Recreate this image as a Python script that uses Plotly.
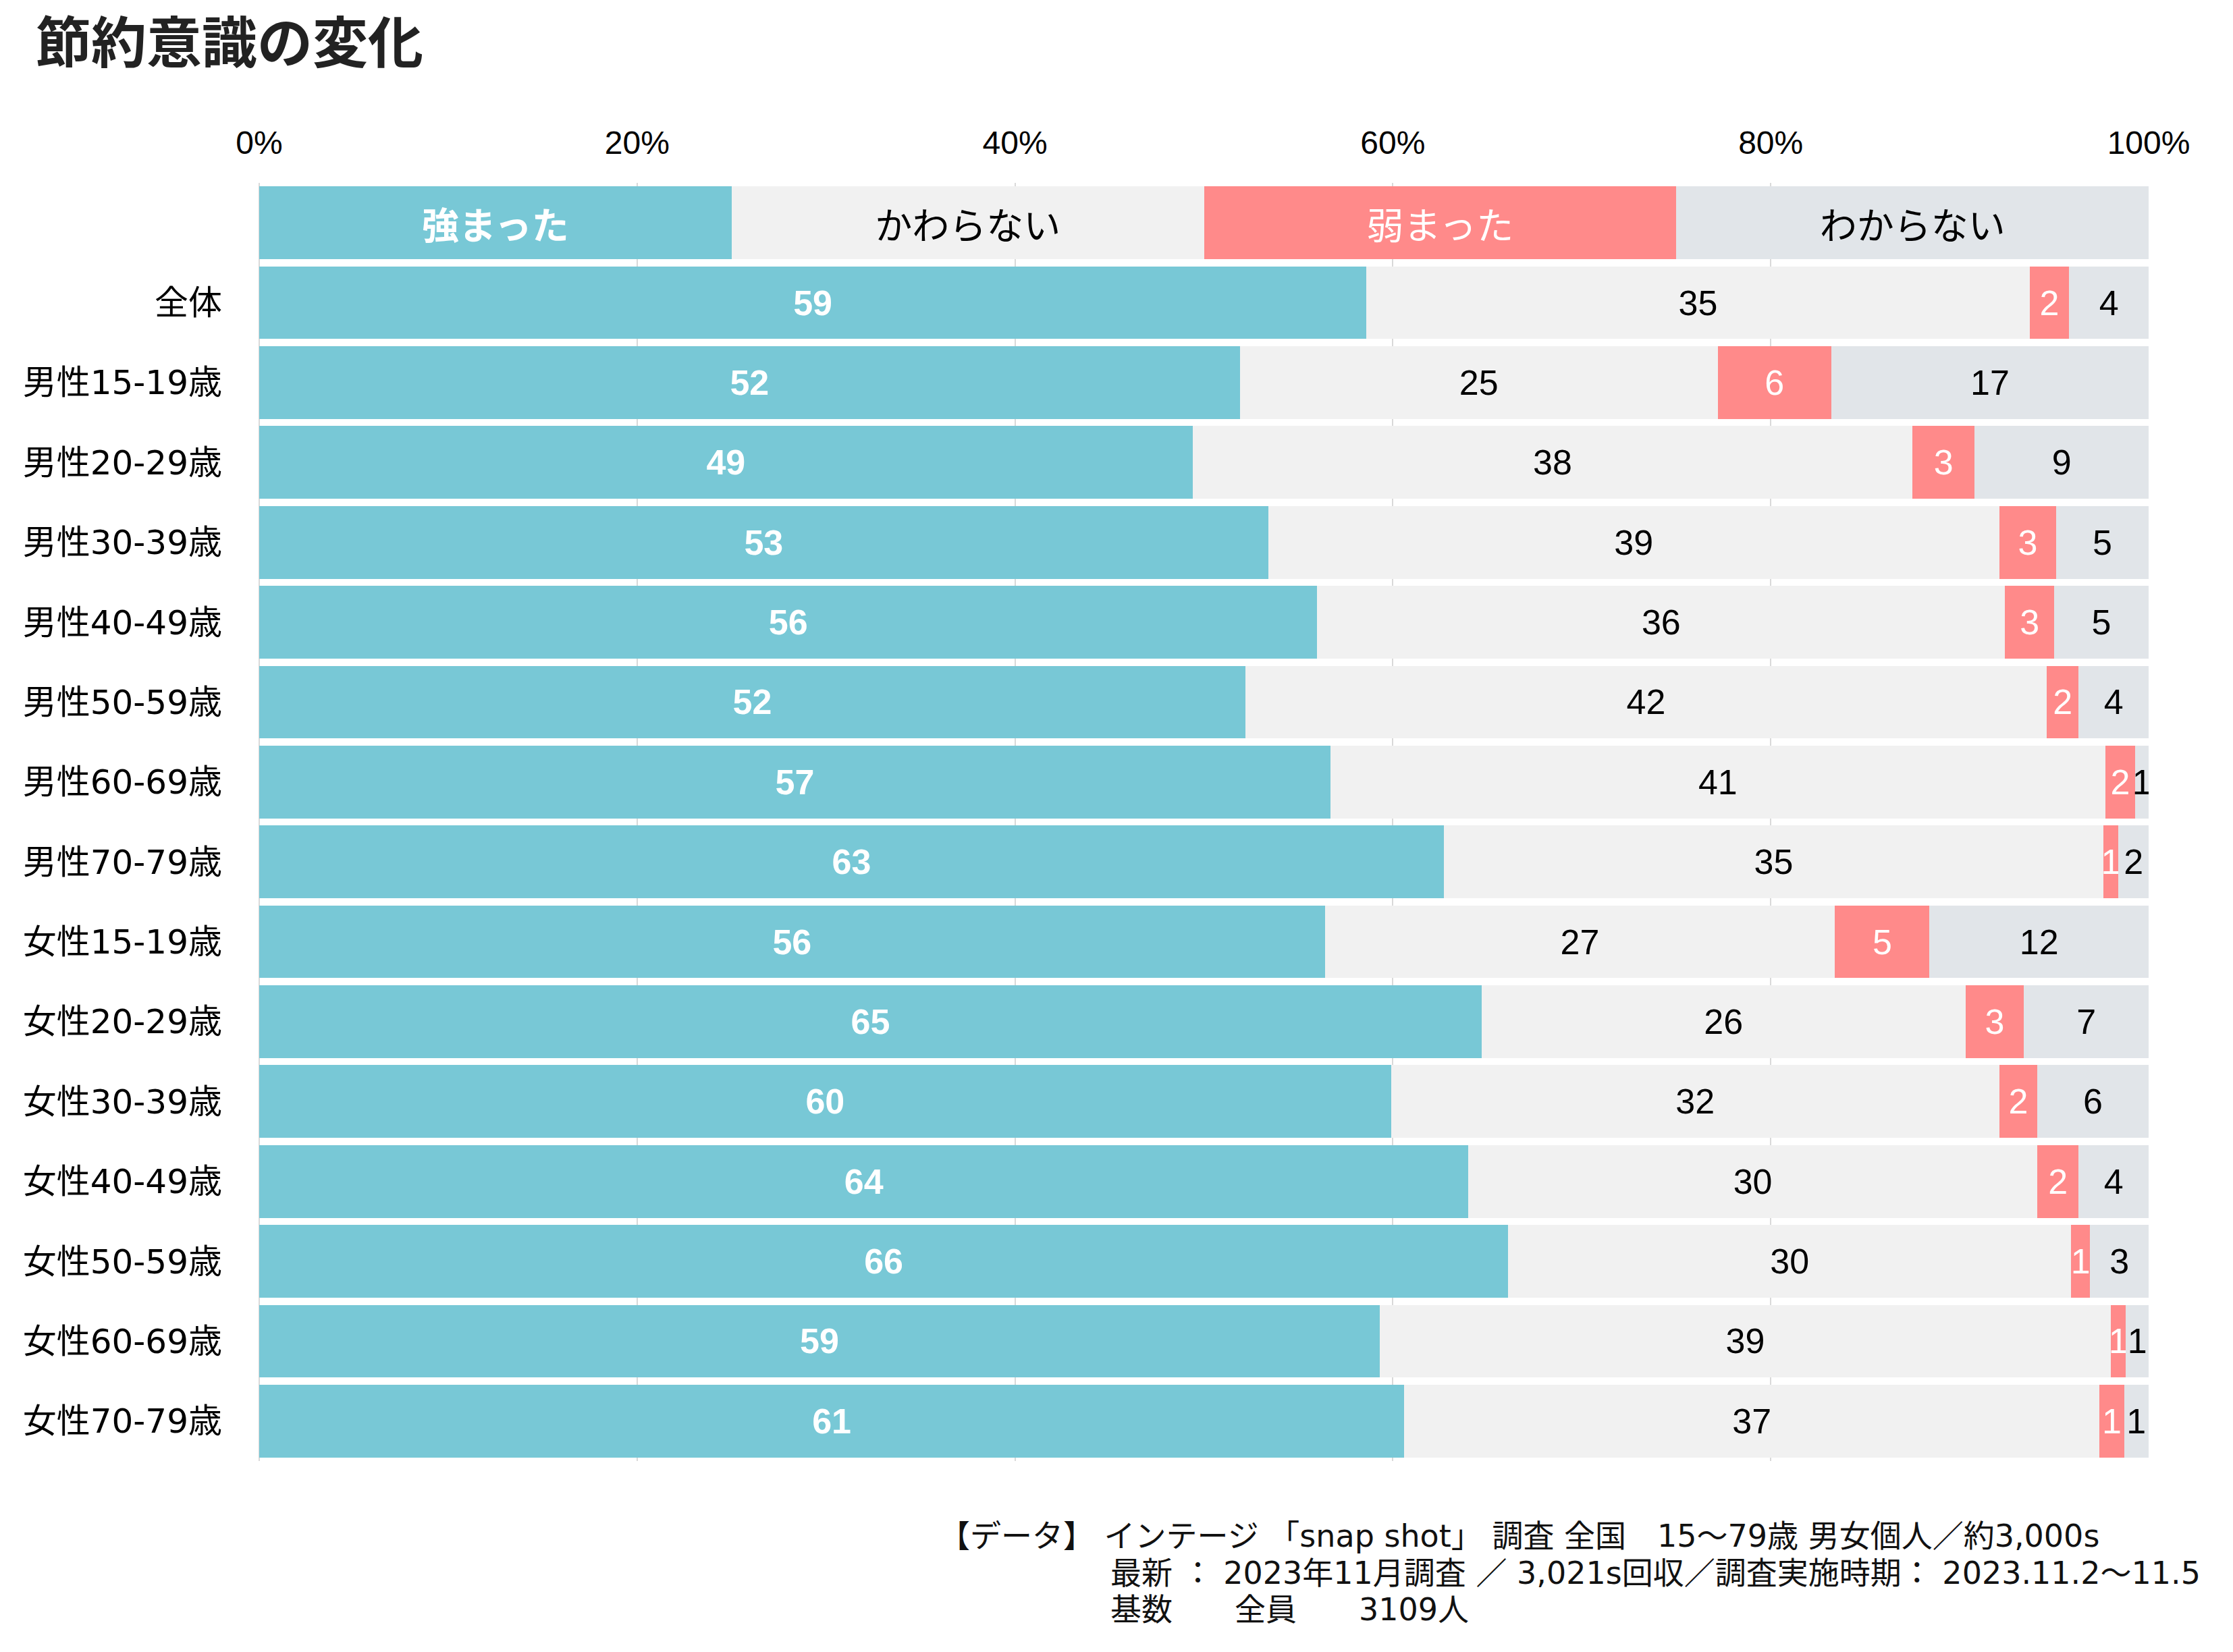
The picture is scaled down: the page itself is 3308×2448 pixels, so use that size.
import plotly.graph_objects as go

# ---------------- data ----------------
categories = ["全体", "男性15-19歳", "男性20-29歳", "男性30-39歳", "男性40-49歳",
              "男性50-59歳", "男性60-69歳", "男性70-79歳", "女性15-19歳", "女性20-29歳",
              "女性30-39歳", "女性40-49歳", "女性50-59歳", "女性60-69歳", "女性70-79歳"]
series_names = ["強まった", "かわらない", "弱まった", "わからない"]
stronger = [58.6, 51.9, 49.4, 53.4, 56.0, 52.2, 56.7, 62.7, 56.4, 64.7, 59.9, 64.0, 66.1, 59.3, 60.6]
unchanged = [35.1, 25.3, 38.1, 38.7, 36.4, 42.4, 41.0, 34.9, 27.0, 25.6, 32.2, 30.1, 29.8, 38.7, 36.8]
weaker = [2.1, 6.0, 3.3, 3.0, 2.6, 1.7, 1.6, 0.8, 5.0, 3.1, 2.0, 2.2, 1.0, 0.8, 1.3]
unknown = [4.2, 16.8, 9.2, 4.9, 5.0, 3.7, 0.7, 1.6, 11.6, 6.6, 5.9, 3.7, 3.1, 1.2, 1.3]
legend_share = [25, 25, 25, 25]          # the header row acting as legend
tick_values = [0, 20, 40, 60, 80, 100]
tick_labels = ["0%", "20%", "40%", "60%", "80%", "100%"]

title_text = "節約意識の変化"
footer_first = "【データ】 インテージ 「snap shot」 調査 全国　15～79歳 男女個人／約3,000s"
footer_rest = ["最新 ： 2023年11月調査 ／ 3,021s回収／調査実施時期： 2023.11.2～11.5",
               "基数　　全員　　3109人"]

# ---------------- style ----------------
colors = ["#78C8D6", "#F1F1F1", "#FF8A8A", "#E1E5E9"]
text_colors = ["white", "black", "white", "black"]
bold = [True, False, False, False]
CJK = "Noto Sans CJK JP"
MIX = "DejaVu Sans, Noto Sans CJK JP"
LAT = "Liberation Sans, Arial"

# page body adds an 8px offset; plot area placed so it lands on the reference
L, T, R, B = 376, 263, 133, 291
PW, PH = 3308 - L - R, 2448 - T - B

header_cat = " "
ycats = [header_cat] + categories
all_values = [stronger, unchanged, weaker, unknown]

fig = go.Figure()
for i, name in enumerate(series_names):
    vals = all_values[i]
    xs = [legend_share[i]] + vals
    texts = [name] + [str(round(v)) for v in vals]
    if bold[i]:
        texts = ["<b>" + t + "</b>" for t in texts]
    fams = [CJK] + [LAT] * len(vals)
    sizes = [55] + [52] * len(vals)
    fig.add_trace(go.Bar(
        y=ycats, x=xs, orientation="h", name=name,
        marker=dict(color=colors[i], line=dict(width=0)),
        text=texts, textposition="inside", insidetextanchor="middle",
        textangle=0, constraintext="none",
        textfont=dict(color=text_colors[i], family=fams, size=sizes),
        hoverinfo="skip", showlegend=False,
    ))

fig.update_layout(
    width=3308, height=2448,
    barmode="stack", bargap=0.09,
    paper_bgcolor="white", plot_bgcolor="white",
    margin=dict(l=L, r=R, t=T, b=B),
    font=dict(family=CJK, color="black"),
    title=dict(text="<b>" + title_text + "</b>", x=45 / 3308, xanchor="left",
               y=1 - 56 / 2448, yanchor="middle",
               font=dict(size=82, color="#222222", family=CJK)),
)
fig.update_xaxes(
    side="top", range=[0, 100], tickvals=tick_values, ticktext=tick_labels,
    showgrid=True, gridcolor="#D9D9D9", gridwidth=2,
    zeroline=True, zerolinecolor="#D9D9D9", zerolinewidth=2,
    showline=False, ticks="", ticklabelstandoff=32,
    tickfont=dict(size=48, family=LAT, color="black"), fixedrange=True,
)
fig.update_yaxes(
    type="category", categoryorder="array", categoryarray=ycats,
    autorange="reversed", showgrid=False, zeroline=False, showline=False,
    ticks="", ticklabelstandoff=54,
    tickfont=dict(size=50, family=MIX, color="black"),
)

# footer (positions in reference pixels, converted to plot-relative fractions)
def px(xr):
    return (xr - 8 - L) / PW

def py(yr):
    return 1 - (yr - 8 - T) / PH

FOOT = dict(size=46, family=MIX, color="#111111")
fig.add_annotation(text=footer_first, xref="paper", yref="paper",
                   x=px(1389), y=py(2276),
                   xanchor="left", yanchor="middle", showarrow=False, font=FOOT)
for ln, yy in zip(footer_rest, [2331, 2385]):
    fig.add_annotation(text=ln, xref="paper", yref="paper",
                       x=px(1643), y=py(yy),
                       xanchor="left", yanchor="middle", showarrow=False, font=FOOT)

fig.write_html("out.html")
